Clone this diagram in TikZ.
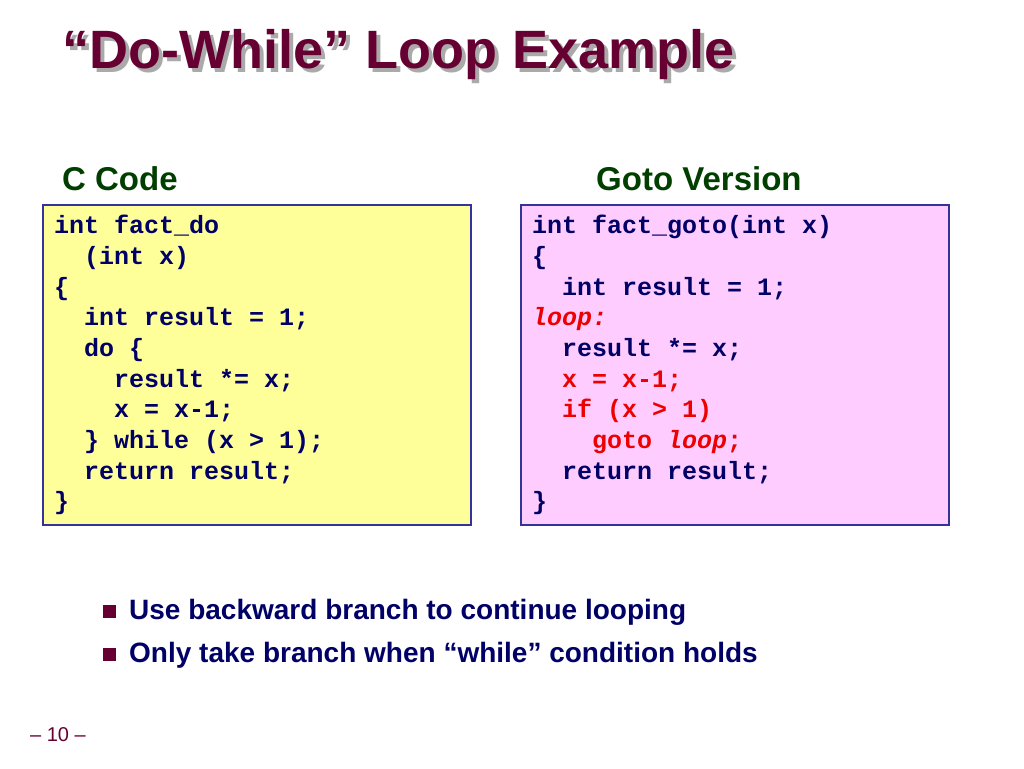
\documentclass[tikz,border=0pt]{standalone}
\usepackage{fontspec}
\setmainfont{Liberation Sans}
\setmonofont{Liberation Mono}
\usepackage{tikz}
\usetikzlibrary{positioning}
\definecolor{titlered}{HTML}{660033}
\definecolor{shadowgray}{HTML}{AAAAAA}
\definecolor{headgreen}{HTML}{003F00}
\definecolor{codeblue}{HTML}{000066}
\definecolor{boxline}{HTML}{333399}
\definecolor{codeyellow}{HTML}{FFFF99}
\definecolor{codepink}{HTML}{FFCCFF}
\definecolor{codered}{HTML}{EE0000}
\newcommand{\codefont}{\fontsize{25}{30.7}\selectfont\ttfamily\bfseries}
\newcommand{\indt}{\hphantom{xx}}
\newcommand{\Rterm}[1]{\textcolor{codered}{#1}}
\tikzset{codebox/.style={draw=boxline,line width=1.5pt,minimum width=428pt,minimum height=320pt,anchor=north west,inner sep=0pt},
  codetext/.style={anchor=north west,inner sep=0pt,align=left,text=codeblue,font=\codefont},
  headtext/.style={anchor=base west,inner sep=0pt,text=headgreen,font=\fontsize{33}{36}\selectfont\bfseries},
  bullettext/.style={anchor=base west,inner sep=0pt,text=codeblue,font=\fontsize{28}{32}\selectfont\bfseries},
  bulletsq/.style={fill=titlered,minimum size=13pt,inner sep=0pt}}

\begin{document}
\begin{tikzpicture}[x=1pt,y=-1pt]
\useasboundingbox (0,0) rectangle (1024,768);
% title with its shadow
\node (titleshadow) [anchor=base west,inner sep=0pt,text=shadowgray,font=\fontsize{54}{60}\selectfont\bfseries] at (66,72) {“Do-While” Loop Example};
\node (title) [anchor=base west,inner sep=0pt,text=titlered,font=\fontsize{54}{60}\selectfont\bfseries] at (62,68) {“Do-While” Loop Example};
%
\node (ccode) [headtext] at (62,190) {C Code};
\node (gotover) [headtext] at (596,190) {Goto Version};
%
\node (boxC) [codebox,fill=codeyellow] at (42,204) {};
\node (boxG) [codebox,fill=codepink] at (520,204) {};
\node (codeC) [codetext] at (54,215) {int fact\_do\\
\indt(int x)\\
\{\\
\indt int result = 1;\\
\indt do \{\\
\indt\indt result *= x;\\
\indt\indt x = x-1;\\
\indt\} while (x > 1);\\
\indt return result;\\
\}};
\node (codeG) [codetext] at (532,215) {int fact\_goto(int x)\\
\{\\
\indt int result = 1;\\
\Rterm{\itshape loop:}\\
\indt result *= x;\\
\indt\Rterm{x = x-1;}\\
\indt\Rterm{if (x > 1)}\\
\indt\indt\Rterm{goto {\itshape loop};}\\
\indt return result;\\
\}};
%
\node (sq1) [bulletsq] at (109,611) {};
\node (b1) [bullettext] at (129,619) {Use backward branch to continue looping};
\node (sq2) [bulletsq] at (109,654) {};
\node (b2) [bullettext] at (129,662) {Only take branch when “while” condition holds};
%
\node (pagenum) [anchor=base west,inner sep=0pt,text=titlered,font=\fontsize{20}{24}\selectfont] at (30,741) {– 10 –};
\end{tikzpicture}
\end{document}
